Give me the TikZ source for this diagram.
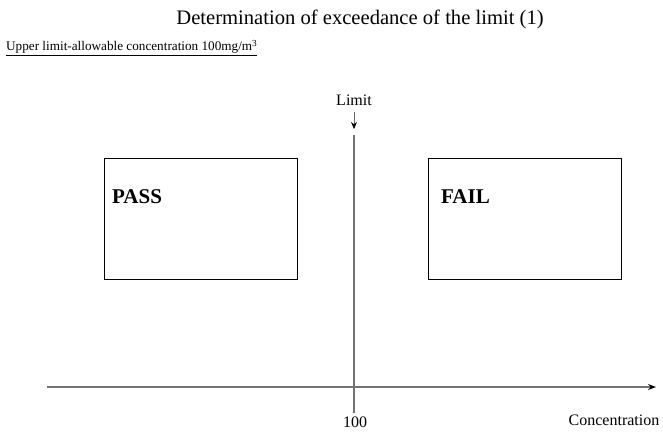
\documentclass[tikz,border=0pt]{standalone}
\usepackage{fontspec}
\setmainfont{Liberation Serif}
\usetikzlibrary{arrows.meta,positioning}
\begin{document}
\begin{tikzpicture}[x=1pt,y=-1pt]
	\tikzstyle{every node}=[font=\fontsize{16}{19}\selectfont]
	\tikzset{zone/.style={draw, line width=0.9pt, minimum width=193pt, minimum height=121pt},
		zonelabel/.style={font=\bfseries\fontsize{21}{25}\selectfont, anchor=west, inner sep=0pt}}
	\useasboundingbox (0,0) rectangle (663,432);
	\node [font=\fontsize{20.6}{24}\selectfont] (title) at (360,19) {Determination of exceedance of the limit (1)};
	\node [anchor=west, inner sep=0pt, font=\fontsize{13.2}{15}\selectfont] (upper) at (6,48) {\underline{Upper limit-allowable concentration 100mg/m\textsuperscript{3}}};
	\node [zone] (pass) at (200.5,218.5) {};
	\node [zone] (fail) at (524.5,218.5) {};
	\node [zonelabel] (passtxt) at (112,197) {PASS};
	\node [zonelabel] (failtxt) at (441,197) {FAIL};
	\coordinate (axisL) at (47,387);
	\coordinate (axisR) at (656,387);
	\coordinate (limT) at (354,135);
	\coordinate (limB) at (354,413);
	\coordinate (limS) at (354,112);
	\coordinate (limE) at (354,129);
	\draw [line width=1.1pt, black!55, -{Stealth[black,length=8pt,width=6pt]}] (axisL) -- (axisR);
	\draw [line width=1.1pt, black!55] (limT) -- (limB);
	\node (limit) at (354,100) {Limit};
	\draw [line width=1pt, black!60, -{Stealth[black,length=7pt,width=6pt]}] (limS) -- (limE);
	\node (hundred) at (355,422) {100};
	\node (conc) at (614,420) {Concentration};
\end{tikzpicture}
\end{document}
